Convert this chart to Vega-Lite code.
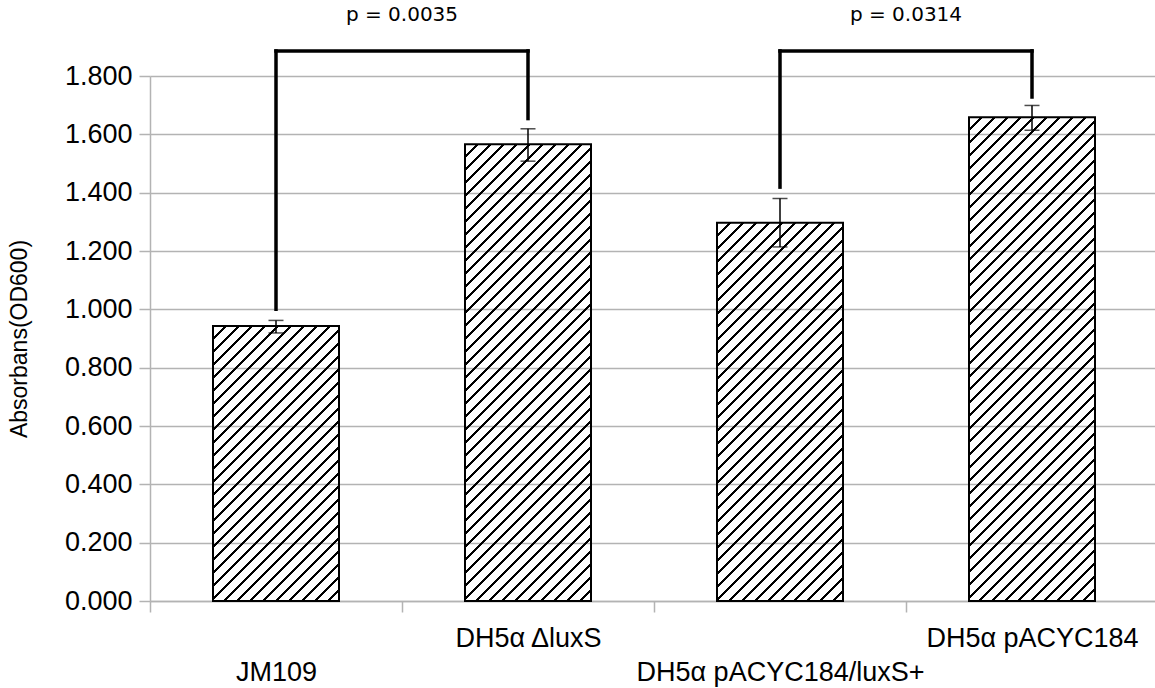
{
"$schema": "https://vega.github.io/schema/vega-lite/v6.json",
"width": 1005,
"height": 525,
"autosize": {"type": "none"},
"padding": {"left": 150, "top": 76, "right": 0, "bottom": 87},
"background": "white",
"config": {"view": {"stroke": null}, "font": "Liberation Sans"},
"datasets": {
"bars": [
{"strain": "JM109", "od": 0.943, "lo": 0.919, "hi": 0.962},
{"strain": "DH5α ΔluxS", "od": 1.566, "lo": 1.508, "hi": 1.619},
{"strain": "DH5α pACYC184/luxS+", "od": 1.297, "lo": 1.214, "hi": 1.380},
{"strain": "DH5α pACYC184", "od": 1.659, "lo": 1.614, "hi": 1.699}
],
"legs": [
{"strain": "JM109", "bottom": 1.0, "top": 1.886},
{"strain": "DH5α ΔluxS", "bottom": 1.654, "top": 1.886},
{"strain": "DH5α pACYC184/luxS+", "bottom": 1.419, "top": 1.886},
{"strain": "DH5α pACYC184", "bottom": 1.728, "top": 1.886}
],
"spans": [
{"from": "JM109", "to": "DH5α ΔluxS", "level": 1.886, "p": "p =  0.0035", "ty": 1.988},
{"from": "DH5α pACYC184/luxS+", "to": "DH5α pACYC184", "level": 1.886, "p": "p = 0.0314", "ty": 1.988}
]
},
"layer": [
{
"data": {"name": "bars"},
"mark": {"type": "bar", "width": {"band": 0.5}, "stroke": "black", "strokeWidth": 2},
"encoding": {
"x": {"field": "strain", "type": "nominal", "sort": null,
"scale": {"domain": ["JM109", "DH5α ΔluxS", "DH5α pACYC184/luxS+", "DH5α pACYC184"], "range": [0, 1008], "paddingInner": 0, "paddingOuter": 0},
"axis": {"title": null, "labelAngle": 0, "labelFontSize": 27, "labelColor": "black", "labelPadding": 13, "labelLineHeight": 34, "labelLimit": 0, "labelOverlap": false, "labelBound": false, "labelBaseline": "top",
"labelExpr": "datum.label == 'JM109' || datum.label == 'DH5α pACYC184/luxS+' ? ['', datum.label] : datum.label",
"tickBand": "extent", "tickSize": 11, "tickColor": "#b3b3b3", "tickWidth": 1.5, "domainColor": "#b3b3b3", "domainWidth": 1.5, "grid": false}},
"y": {"field": "od", "type": "quantitative", "scale": {"domain": [0, 1.8], "nice": false},
"axis": {"values": [0, 0.2, 0.4, 0.6, 0.8, 1.0, 1.2, 1.4, 1.6, 1.8], "format": ".3f", "title": "Absorbans(OD600)", "titleFontSize": 23, "titleFontWeight": "normal", "titleColor": "black", "titlePadding": 33,
"labelFontSize": 27, "labelColor": "black", "labelPadding": 7, "tickSize": 11, "tickColor": "#b3b3b3", "tickWidth": 1.5, "domainColor": "#b3b3b3", "domainWidth": 1.5, "gridColor": "#b3b3b3", "gridWidth": 1.5}},
"fill": {"condition": [
{"test": "datum.strain === 'JM109'", "value": {"gradient": "linear", "x1": 0, "y1": 0, "x2": 0.8945, "y2": 1.9528, "stops": [
{"offset":0.0175,"color":"#0000"},{"offset":0.0175,"color":"#000"},{"offset":0.0225,"color":"#000"},{"offset":0.0225,"color":"#0000"},
{"offset":0.0375,"color":"#0000"},{"offset":0.0375,"color":"#000"},{"offset":0.0425,"color":"#000"},{"offset":0.0425,"color":"#0000"},
{"offset":0.0575,"color":"#0000"},{"offset":0.0575,"color":"#000"},{"offset":0.0625,"color":"#000"},{"offset":0.0625,"color":"#0000"},
{"offset":0.0775,"color":"#0000"},{"offset":0.0775,"color":"#000"},{"offset":0.0825,"color":"#000"},{"offset":0.0825,"color":"#0000"},
{"offset":0.0975,"color":"#0000"},{"offset":0.0975,"color":"#000"},{"offset":0.1025,"color":"#000"},{"offset":0.1025,"color":"#0000"},
{"offset":0.1175,"color":"#0000"},{"offset":0.1175,"color":"#000"},{"offset":0.1225,"color":"#000"},{"offset":0.1225,"color":"#0000"},
{"offset":0.1375,"color":"#0000"},{"offset":0.1375,"color":"#000"},{"offset":0.1425,"color":"#000"},{"offset":0.1425,"color":"#0000"},
{"offset":0.1575,"color":"#0000"},{"offset":0.1575,"color":"#000"},{"offset":0.1625,"color":"#000"},{"offset":0.1625,"color":"#0000"},
{"offset":0.1775,"color":"#0000"},{"offset":0.1775,"color":"#000"},{"offset":0.1825,"color":"#000"},{"offset":0.1825,"color":"#0000"},
{"offset":0.1975,"color":"#0000"},{"offset":0.1975,"color":"#000"},{"offset":0.2025,"color":"#000"},{"offset":0.2025,"color":"#0000"},
{"offset":0.2175,"color":"#0000"},{"offset":0.2175,"color":"#000"},{"offset":0.2225,"color":"#000"},{"offset":0.2225,"color":"#0000"},
{"offset":0.2375,"color":"#0000"},{"offset":0.2375,"color":"#000"},{"offset":0.2425,"color":"#000"},{"offset":0.2425,"color":"#0000"},
{"offset":0.2575,"color":"#0000"},{"offset":0.2575,"color":"#000"},{"offset":0.2625,"color":"#000"},{"offset":0.2625,"color":"#0000"},
{"offset":0.2775,"color":"#0000"},{"offset":0.2775,"color":"#000"},{"offset":0.2825,"color":"#000"},{"offset":0.2825,"color":"#0000"},
{"offset":0.2975,"color":"#0000"},{"offset":0.2975,"color":"#000"},{"offset":0.3025,"color":"#000"},{"offset":0.3025,"color":"#0000"},
{"offset":0.3175,"color":"#0000"},{"offset":0.3175,"color":"#000"},{"offset":0.3225,"color":"#000"},{"offset":0.3225,"color":"#0000"},
{"offset":0.3375,"color":"#0000"},{"offset":0.3375,"color":"#000"},{"offset":0.3425,"color":"#000"},{"offset":0.3425,"color":"#0000"},
{"offset":0.3575,"color":"#0000"},{"offset":0.3575,"color":"#000"},{"offset":0.3625,"color":"#000"},{"offset":0.3625,"color":"#0000"},
{"offset":0.3775,"color":"#0000"},{"offset":0.3775,"color":"#000"},{"offset":0.3825,"color":"#000"},{"offset":0.3825,"color":"#0000"},
{"offset":0.3975,"color":"#0000"},{"offset":0.3975,"color":"#000"},{"offset":0.4025,"color":"#000"},{"offset":0.4025,"color":"#0000"},
{"offset":0.4175,"color":"#0000"},{"offset":0.4175,"color":"#000"},{"offset":0.4225,"color":"#000"},{"offset":0.4225,"color":"#0000"},
{"offset":0.4375,"color":"#0000"},{"offset":0.4375,"color":"#000"},{"offset":0.4425,"color":"#000"},{"offset":0.4425,"color":"#0000"},
{"offset":0.4575,"color":"#0000"},{"offset":0.4575,"color":"#000"},{"offset":0.4625,"color":"#000"},{"offset":0.4625,"color":"#0000"},
{"offset":0.4775,"color":"#0000"},{"offset":0.4775,"color":"#000"},{"offset":0.4825,"color":"#000"},{"offset":0.4825,"color":"#0000"},
{"offset":0.4975,"color":"#0000"},{"offset":0.4975,"color":"#000"},{"offset":0.5025,"color":"#000"},{"offset":0.5025,"color":"#0000"},
{"offset":0.5175,"color":"#0000"},{"offset":0.5175,"color":"#000"},{"offset":0.5225,"color":"#000"},{"offset":0.5225,"color":"#0000"},
{"offset":0.5375,"color":"#0000"},{"offset":0.5375,"color":"#000"},{"offset":0.5425,"color":"#000"},{"offset":0.5425,"color":"#0000"},
{"offset":0.5575,"color":"#0000"},{"offset":0.5575,"color":"#000"},{"offset":0.5625,"color":"#000"},{"offset":0.5625,"color":"#0000"},
{"offset":0.5775,"color":"#0000"},{"offset":0.5775,"color":"#000"},{"offset":0.5825,"color":"#000"},{"offset":0.5825,"color":"#0000"},
{"offset":0.5975,"color":"#0000"},{"offset":0.5975,"color":"#000"},{"offset":0.6025,"color":"#000"},{"offset":0.6025,"color":"#0000"}
]}},
{"test": "datum.strain === 'DH5α ΔluxS'", "value": {"gradient": "linear", "x1": 0, "y1": 0, "x2": 0.3647, "y2": 1.3222, "stops": [
{"offset":0.0175,"color":"#0000"},{"offset":0.0175,"color":"#000"},{"offset":0.0225,"color":"#000"},{"offset":0.0225,"color":"#0000"},
{"offset":0.0375,"color":"#0000"},{"offset":0.0375,"color":"#000"},{"offset":0.0425,"color":"#000"},{"offset":0.0425,"color":"#0000"},
{"offset":0.0575,"color":"#0000"},{"offset":0.0575,"color":"#000"},{"offset":0.0625,"color":"#000"},{"offset":0.0625,"color":"#0000"},
{"offset":0.0775,"color":"#0000"},{"offset":0.0775,"color":"#000"},{"offset":0.0825,"color":"#000"},{"offset":0.0825,"color":"#0000"},
{"offset":0.0975,"color":"#0000"},{"offset":0.0975,"color":"#000"},{"offset":0.1025,"color":"#000"},{"offset":0.1025,"color":"#0000"},
{"offset":0.1175,"color":"#0000"},{"offset":0.1175,"color":"#000"},{"offset":0.1225,"color":"#000"},{"offset":0.1225,"color":"#0000"},
{"offset":0.1375,"color":"#0000"},{"offset":0.1375,"color":"#000"},{"offset":0.1425,"color":"#000"},{"offset":0.1425,"color":"#0000"},
{"offset":0.1575,"color":"#0000"},{"offset":0.1575,"color":"#000"},{"offset":0.1625,"color":"#000"},{"offset":0.1625,"color":"#0000"},
{"offset":0.1775,"color":"#0000"},{"offset":0.1775,"color":"#000"},{"offset":0.1825,"color":"#000"},{"offset":0.1825,"color":"#0000"},
{"offset":0.1975,"color":"#0000"},{"offset":0.1975,"color":"#000"},{"offset":0.2025,"color":"#000"},{"offset":0.2025,"color":"#0000"},
{"offset":0.2175,"color":"#0000"},{"offset":0.2175,"color":"#000"},{"offset":0.2225,"color":"#000"},{"offset":0.2225,"color":"#0000"},
{"offset":0.2375,"color":"#0000"},{"offset":0.2375,"color":"#000"},{"offset":0.2425,"color":"#000"},{"offset":0.2425,"color":"#0000"},
{"offset":0.2575,"color":"#0000"},{"offset":0.2575,"color":"#000"},{"offset":0.2625,"color":"#000"},{"offset":0.2625,"color":"#0000"},
{"offset":0.2775,"color":"#0000"},{"offset":0.2775,"color":"#000"},{"offset":0.2825,"color":"#000"},{"offset":0.2825,"color":"#0000"},
{"offset":0.2975,"color":"#0000"},{"offset":0.2975,"color":"#000"},{"offset":0.3025,"color":"#000"},{"offset":0.3025,"color":"#0000"},
{"offset":0.3175,"color":"#0000"},{"offset":0.3175,"color":"#000"},{"offset":0.3225,"color":"#000"},{"offset":0.3225,"color":"#0000"},
{"offset":0.3375,"color":"#0000"},{"offset":0.3375,"color":"#000"},{"offset":0.3425,"color":"#000"},{"offset":0.3425,"color":"#0000"},
{"offset":0.3575,"color":"#0000"},{"offset":0.3575,"color":"#000"},{"offset":0.3625,"color":"#000"},{"offset":0.3625,"color":"#0000"},
{"offset":0.3775,"color":"#0000"},{"offset":0.3775,"color":"#000"},{"offset":0.3825,"color":"#000"},{"offset":0.3825,"color":"#0000"},
{"offset":0.3975,"color":"#0000"},{"offset":0.3975,"color":"#000"},{"offset":0.4025,"color":"#000"},{"offset":0.4025,"color":"#0000"},
{"offset":0.4175,"color":"#0000"},{"offset":0.4175,"color":"#000"},{"offset":0.4225,"color":"#000"},{"offset":0.4225,"color":"#0000"},
{"offset":0.4375,"color":"#0000"},{"offset":0.4375,"color":"#000"},{"offset":0.4425,"color":"#000"},{"offset":0.4425,"color":"#0000"},
{"offset":0.4575,"color":"#0000"},{"offset":0.4575,"color":"#000"},{"offset":0.4625,"color":"#000"},{"offset":0.4625,"color":"#0000"},
{"offset":0.4775,"color":"#0000"},{"offset":0.4775,"color":"#000"},{"offset":0.4825,"color":"#000"},{"offset":0.4825,"color":"#0000"},
{"offset":0.4975,"color":"#0000"},{"offset":0.4975,"color":"#000"},{"offset":0.5025,"color":"#000"},{"offset":0.5025,"color":"#0000"},
{"offset":0.5175,"color":"#0000"},{"offset":0.5175,"color":"#000"},{"offset":0.5225,"color":"#000"},{"offset":0.5225,"color":"#0000"},
{"offset":0.5375,"color":"#0000"},{"offset":0.5375,"color":"#000"},{"offset":0.5425,"color":"#000"},{"offset":0.5425,"color":"#0000"},
{"offset":0.5575,"color":"#0000"},{"offset":0.5575,"color":"#000"},{"offset":0.5625,"color":"#000"},{"offset":0.5625,"color":"#0000"},
{"offset":0.5775,"color":"#0000"},{"offset":0.5775,"color":"#000"},{"offset":0.5825,"color":"#000"},{"offset":0.5825,"color":"#0000"},
{"offset":0.5975,"color":"#0000"},{"offset":0.5975,"color":"#000"},{"offset":0.6025,"color":"#000"},{"offset":0.6025,"color":"#0000"},
{"offset":0.6175,"color":"#0000"},{"offset":0.6175,"color":"#000"},{"offset":0.6225,"color":"#000"},{"offset":0.6225,"color":"#0000"},
{"offset":0.6375,"color":"#0000"},{"offset":0.6375,"color":"#000"},{"offset":0.6425,"color":"#000"},{"offset":0.6425,"color":"#0000"},
{"offset":0.6575,"color":"#0000"},{"offset":0.6575,"color":"#000"},{"offset":0.6625,"color":"#000"},{"offset":0.6625,"color":"#0000"},
{"offset":0.6775,"color":"#0000"},{"offset":0.6775,"color":"#000"},{"offset":0.6825,"color":"#000"},{"offset":0.6825,"color":"#0000"},
{"offset":0.6975,"color":"#0000"},{"offset":0.6975,"color":"#000"},{"offset":0.7025,"color":"#000"},{"offset":0.7025,"color":"#0000"},
{"offset":0.7175,"color":"#0000"},{"offset":0.7175,"color":"#000"},{"offset":0.7225,"color":"#000"},{"offset":0.7225,"color":"#0000"},
{"offset":0.7375,"color":"#0000"},{"offset":0.7375,"color":"#000"},{"offset":0.7425,"color":"#000"},{"offset":0.7425,"color":"#0000"},
{"offset":0.7575,"color":"#0000"},{"offset":0.7575,"color":"#000"},{"offset":0.7625,"color":"#000"},{"offset":0.7625,"color":"#0000"},
{"offset":0.7775,"color":"#0000"},{"offset":0.7775,"color":"#000"},{"offset":0.7825,"color":"#000"},{"offset":0.7825,"color":"#0000"},
{"offset":0.7975,"color":"#0000"},{"offset":0.7975,"color":"#000"},{"offset":0.8025,"color":"#000"},{"offset":0.8025,"color":"#0000"},
{"offset":0.8175,"color":"#0000"},{"offset":0.8175,"color":"#000"},{"offset":0.8225,"color":"#000"},{"offset":0.8225,"color":"#0000"},
{"offset":0.8375,"color":"#0000"},{"offset":0.8375,"color":"#000"},{"offset":0.8425,"color":"#000"},{"offset":0.8425,"color":"#0000"},
{"offset":0.8575,"color":"#0000"},{"offset":0.8575,"color":"#000"},{"offset":0.8625,"color":"#000"},{"offset":0.8625,"color":"#0000"},
{"offset":0.8775,"color":"#0000"},{"offset":0.8775,"color":"#000"},{"offset":0.8825,"color":"#000"},{"offset":0.8825,"color":"#0000"}
]}},
{"test": "datum.strain === 'DH5α pACYC184/luxS+'", "value": {"gradient": "linear", "x1": 0, "y1": 0, "x2": 0.5151, "y2": 1.5466, "stops": [
{"offset":0.0175,"color":"#0000"},{"offset":0.0175,"color":"#000"},{"offset":0.0225,"color":"#000"},{"offset":0.0225,"color":"#0000"},
{"offset":0.0375,"color":"#0000"},{"offset":0.0375,"color":"#000"},{"offset":0.0425,"color":"#000"},{"offset":0.0425,"color":"#0000"},
{"offset":0.0575,"color":"#0000"},{"offset":0.0575,"color":"#000"},{"offset":0.0625,"color":"#000"},{"offset":0.0625,"color":"#0000"},
{"offset":0.0775,"color":"#0000"},{"offset":0.0775,"color":"#000"},{"offset":0.0825,"color":"#000"},{"offset":0.0825,"color":"#0000"},
{"offset":0.0975,"color":"#0000"},{"offset":0.0975,"color":"#000"},{"offset":0.1025,"color":"#000"},{"offset":0.1025,"color":"#0000"},
{"offset":0.1175,"color":"#0000"},{"offset":0.1175,"color":"#000"},{"offset":0.1225,"color":"#000"},{"offset":0.1225,"color":"#0000"},
{"offset":0.1375,"color":"#0000"},{"offset":0.1375,"color":"#000"},{"offset":0.1425,"color":"#000"},{"offset":0.1425,"color":"#0000"},
{"offset":0.1575,"color":"#0000"},{"offset":0.1575,"color":"#000"},{"offset":0.1625,"color":"#000"},{"offset":0.1625,"color":"#0000"},
{"offset":0.1775,"color":"#0000"},{"offset":0.1775,"color":"#000"},{"offset":0.1825,"color":"#000"},{"offset":0.1825,"color":"#0000"},
{"offset":0.1975,"color":"#0000"},{"offset":0.1975,"color":"#000"},{"offset":0.2025,"color":"#000"},{"offset":0.2025,"color":"#0000"},
{"offset":0.2175,"color":"#0000"},{"offset":0.2175,"color":"#000"},{"offset":0.2225,"color":"#000"},{"offset":0.2225,"color":"#0000"},
{"offset":0.2375,"color":"#0000"},{"offset":0.2375,"color":"#000"},{"offset":0.2425,"color":"#000"},{"offset":0.2425,"color":"#0000"},
{"offset":0.2575,"color":"#0000"},{"offset":0.2575,"color":"#000"},{"offset":0.2625,"color":"#000"},{"offset":0.2625,"color":"#0000"},
{"offset":0.2775,"color":"#0000"},{"offset":0.2775,"color":"#000"},{"offset":0.2825,"color":"#000"},{"offset":0.2825,"color":"#0000"},
{"offset":0.2975,"color":"#0000"},{"offset":0.2975,"color":"#000"},{"offset":0.3025,"color":"#000"},{"offset":0.3025,"color":"#0000"},
{"offset":0.3175,"color":"#0000"},{"offset":0.3175,"color":"#000"},{"offset":0.3225,"color":"#000"},{"offset":0.3225,"color":"#0000"},
{"offset":0.3375,"color":"#0000"},{"offset":0.3375,"color":"#000"},{"offset":0.3425,"color":"#000"},{"offset":0.3425,"color":"#0000"},
{"offset":0.3575,"color":"#0000"},{"offset":0.3575,"color":"#000"},{"offset":0.3625,"color":"#000"},{"offset":0.3625,"color":"#0000"},
{"offset":0.3775,"color":"#0000"},{"offset":0.3775,"color":"#000"},{"offset":0.3825,"color":"#000"},{"offset":0.3825,"color":"#0000"},
{"offset":0.3975,"color":"#0000"},{"offset":0.3975,"color":"#000"},{"offset":0.4025,"color":"#000"},{"offset":0.4025,"color":"#0000"},
{"offset":0.4175,"color":"#0000"},{"offset":0.4175,"color":"#000"},{"offset":0.4225,"color":"#000"},{"offset":0.4225,"color":"#0000"},
{"offset":0.4375,"color":"#0000"},{"offset":0.4375,"color":"#000"},{"offset":0.4425,"color":"#000"},{"offset":0.4425,"color":"#0000"},
{"offset":0.4575,"color":"#0000"},{"offset":0.4575,"color":"#000"},{"offset":0.4625,"color":"#000"},{"offset":0.4625,"color":"#0000"},
{"offset":0.4775,"color":"#0000"},{"offset":0.4775,"color":"#000"},{"offset":0.4825,"color":"#000"},{"offset":0.4825,"color":"#0000"},
{"offset":0.4975,"color":"#0000"},{"offset":0.4975,"color":"#000"},{"offset":0.5025,"color":"#000"},{"offset":0.5025,"color":"#0000"},
{"offset":0.5175,"color":"#0000"},{"offset":0.5175,"color":"#000"},{"offset":0.5225,"color":"#000"},{"offset":0.5225,"color":"#0000"},
{"offset":0.5375,"color":"#0000"},{"offset":0.5375,"color":"#000"},{"offset":0.5425,"color":"#000"},{"offset":0.5425,"color":"#0000"},
{"offset":0.5575,"color":"#0000"},{"offset":0.5575,"color":"#000"},{"offset":0.5625,"color":"#000"},{"offset":0.5625,"color":"#0000"},
{"offset":0.5775,"color":"#0000"},{"offset":0.5775,"color":"#000"},{"offset":0.5825,"color":"#000"},{"offset":0.5825,"color":"#0000"},
{"offset":0.5975,"color":"#0000"},{"offset":0.5975,"color":"#000"},{"offset":0.6025,"color":"#000"},{"offset":0.6025,"color":"#0000"},
{"offset":0.6175,"color":"#0000"},{"offset":0.6175,"color":"#000"},{"offset":0.6225,"color":"#000"},{"offset":0.6225,"color":"#0000"},
{"offset":0.6375,"color":"#0000"},{"offset":0.6375,"color":"#000"},{"offset":0.6425,"color":"#000"},{"offset":0.6425,"color":"#0000"},
{"offset":0.6575,"color":"#0000"},{"offset":0.6575,"color":"#000"},{"offset":0.6625,"color":"#000"},{"offset":0.6625,"color":"#0000"},
{"offset":0.6775,"color":"#0000"},{"offset":0.6775,"color":"#000"},{"offset":0.6825,"color":"#000"},{"offset":0.6825,"color":"#0000"},
{"offset":0.6975,"color":"#0000"},{"offset":0.6975,"color":"#000"},{"offset":0.7025,"color":"#000"},{"offset":0.7025,"color":"#0000"},
{"offset":0.7175,"color":"#0000"},{"offset":0.7175,"color":"#000"},{"offset":0.7225,"color":"#000"},{"offset":0.7225,"color":"#0000"},
{"offset":0.7375,"color":"#0000"},{"offset":0.7375,"color":"#000"},{"offset":0.7425,"color":"#000"},{"offset":0.7425,"color":"#0000"},
{"offset":0.7575,"color":"#0000"},{"offset":0.7575,"color":"#000"},{"offset":0.7625,"color":"#000"},{"offset":0.7625,"color":"#0000"}
]}}
],
"value": {"gradient": "linear", "x1": 0, "y1": 0, "x2": 0.3276, "y2": 1.2580, "stops": [
{"offset":0.0175,"color":"#0000"},{"offset":0.0175,"color":"#000"},{"offset":0.0225,"color":"#000"},{"offset":0.0225,"color":"#0000"},
{"offset":0.0375,"color":"#0000"},{"offset":0.0375,"color":"#000"},{"offset":0.0425,"color":"#000"},{"offset":0.0425,"color":"#0000"},
{"offset":0.0575,"color":"#0000"},{"offset":0.0575,"color":"#000"},{"offset":0.0625,"color":"#000"},{"offset":0.0625,"color":"#0000"},
{"offset":0.0775,"color":"#0000"},{"offset":0.0775,"color":"#000"},{"offset":0.0825,"color":"#000"},{"offset":0.0825,"color":"#0000"},
{"offset":0.0975,"color":"#0000"},{"offset":0.0975,"color":"#000"},{"offset":0.1025,"color":"#000"},{"offset":0.1025,"color":"#0000"},
{"offset":0.1175,"color":"#0000"},{"offset":0.1175,"color":"#000"},{"offset":0.1225,"color":"#000"},{"offset":0.1225,"color":"#0000"},
{"offset":0.1375,"color":"#0000"},{"offset":0.1375,"color":"#000"},{"offset":0.1425,"color":"#000"},{"offset":0.1425,"color":"#0000"},
{"offset":0.1575,"color":"#0000"},{"offset":0.1575,"color":"#000"},{"offset":0.1625,"color":"#000"},{"offset":0.1625,"color":"#0000"},
{"offset":0.1775,"color":"#0000"},{"offset":0.1775,"color":"#000"},{"offset":0.1825,"color":"#000"},{"offset":0.1825,"color":"#0000"},
{"offset":0.1975,"color":"#0000"},{"offset":0.1975,"color":"#000"},{"offset":0.2025,"color":"#000"},{"offset":0.2025,"color":"#0000"},
{"offset":0.2175,"color":"#0000"},{"offset":0.2175,"color":"#000"},{"offset":0.2225,"color":"#000"},{"offset":0.2225,"color":"#0000"},
{"offset":0.2375,"color":"#0000"},{"offset":0.2375,"color":"#000"},{"offset":0.2425,"color":"#000"},{"offset":0.2425,"color":"#0000"},
{"offset":0.2575,"color":"#0000"},{"offset":0.2575,"color":"#000"},{"offset":0.2625,"color":"#000"},{"offset":0.2625,"color":"#0000"},
{"offset":0.2775,"color":"#0000"},{"offset":0.2775,"color":"#000"},{"offset":0.2825,"color":"#000"},{"offset":0.2825,"color":"#0000"},
{"offset":0.2975,"color":"#0000"},{"offset":0.2975,"color":"#000"},{"offset":0.3025,"color":"#000"},{"offset":0.3025,"color":"#0000"},
{"offset":0.3175,"color":"#0000"},{"offset":0.3175,"color":"#000"},{"offset":0.3225,"color":"#000"},{"offset":0.3225,"color":"#0000"},
{"offset":0.3375,"color":"#0000"},{"offset":0.3375,"color":"#000"},{"offset":0.3425,"color":"#000"},{"offset":0.3425,"color":"#0000"},
{"offset":0.3575,"color":"#0000"},{"offset":0.3575,"color":"#000"},{"offset":0.3625,"color":"#000"},{"offset":0.3625,"color":"#0000"},
{"offset":0.3775,"color":"#0000"},{"offset":0.3775,"color":"#000"},{"offset":0.3825,"color":"#000"},{"offset":0.3825,"color":"#0000"},
{"offset":0.3975,"color":"#0000"},{"offset":0.3975,"color":"#000"},{"offset":0.4025,"color":"#000"},{"offset":0.4025,"color":"#0000"},
{"offset":0.4175,"color":"#0000"},{"offset":0.4175,"color":"#000"},{"offset":0.4225,"color":"#000"},{"offset":0.4225,"color":"#0000"},
{"offset":0.4375,"color":"#0000"},{"offset":0.4375,"color":"#000"},{"offset":0.4425,"color":"#000"},{"offset":0.4425,"color":"#0000"},
{"offset":0.4575,"color":"#0000"},{"offset":0.4575,"color":"#000"},{"offset":0.4625,"color":"#000"},{"offset":0.4625,"color":"#0000"},
{"offset":0.4775,"color":"#0000"},{"offset":0.4775,"color":"#000"},{"offset":0.4825,"color":"#000"},{"offset":0.4825,"color":"#0000"},
{"offset":0.4975,"color":"#0000"},{"offset":0.4975,"color":"#000"},{"offset":0.5025,"color":"#000"},{"offset":0.5025,"color":"#0000"},
{"offset":0.5175,"color":"#0000"},{"offset":0.5175,"color":"#000"},{"offset":0.5225,"color":"#000"},{"offset":0.5225,"color":"#0000"},
{"offset":0.5375,"color":"#0000"},{"offset":0.5375,"color":"#000"},{"offset":0.5425,"color":"#000"},{"offset":0.5425,"color":"#0000"},
{"offset":0.5575,"color":"#0000"},{"offset":0.5575,"color":"#000"},{"offset":0.5625,"color":"#000"},{"offset":0.5625,"color":"#0000"},
{"offset":0.5775,"color":"#0000"},{"offset":0.5775,"color":"#000"},{"offset":0.5825,"color":"#000"},{"offset":0.5825,"color":"#0000"},
{"offset":0.5975,"color":"#0000"},{"offset":0.5975,"color":"#000"},{"offset":0.6025,"color":"#000"},{"offset":0.6025,"color":"#0000"},
{"offset":0.6175,"color":"#0000"},{"offset":0.6175,"color":"#000"},{"offset":0.6225,"color":"#000"},{"offset":0.6225,"color":"#0000"},
{"offset":0.6375,"color":"#0000"},{"offset":0.6375,"color":"#000"},{"offset":0.6425,"color":"#000"},{"offset":0.6425,"color":"#0000"},
{"offset":0.6575,"color":"#0000"},{"offset":0.6575,"color":"#000"},{"offset":0.6625,"color":"#000"},{"offset":0.6625,"color":"#0000"},
{"offset":0.6775,"color":"#0000"},{"offset":0.6775,"color":"#000"},{"offset":0.6825,"color":"#000"},{"offset":0.6825,"color":"#0000"},
{"offset":0.6975,"color":"#0000"},{"offset":0.6975,"color":"#000"},{"offset":0.7025,"color":"#000"},{"offset":0.7025,"color":"#0000"},
{"offset":0.7175,"color":"#0000"},{"offset":0.7175,"color":"#000"},{"offset":0.7225,"color":"#000"},{"offset":0.7225,"color":"#0000"},
{"offset":0.7375,"color":"#0000"},{"offset":0.7375,"color":"#000"},{"offset":0.7425,"color":"#000"},{"offset":0.7425,"color":"#0000"},
{"offset":0.7575,"color":"#0000"},{"offset":0.7575,"color":"#000"},{"offset":0.7625,"color":"#000"},{"offset":0.7625,"color":"#0000"},
{"offset":0.7775,"color":"#0000"},{"offset":0.7775,"color":"#000"},{"offset":0.7825,"color":"#000"},{"offset":0.7825,"color":"#0000"},
{"offset":0.7975,"color":"#0000"},{"offset":0.7975,"color":"#000"},{"offset":0.8025,"color":"#000"},{"offset":0.8025,"color":"#0000"},
{"offset":0.8175,"color":"#0000"},{"offset":0.8175,"color":"#000"},{"offset":0.8225,"color":"#000"},{"offset":0.8225,"color":"#0000"},
{"offset":0.8375,"color":"#0000"},{"offset":0.8375,"color":"#000"},{"offset":0.8425,"color":"#000"},{"offset":0.8425,"color":"#0000"},
{"offset":0.8575,"color":"#0000"},{"offset":0.8575,"color":"#000"},{"offset":0.8625,"color":"#000"},{"offset":0.8625,"color":"#0000"},
{"offset":0.8775,"color":"#0000"},{"offset":0.8775,"color":"#000"},{"offset":0.8825,"color":"#000"},{"offset":0.8825,"color":"#0000"},
{"offset":0.8975,"color":"#0000"},{"offset":0.8975,"color":"#000"},{"offset":0.9025,"color":"#000"},{"offset":0.9025,"color":"#0000"},
{"offset":0.9175,"color":"#0000"},{"offset":0.9175,"color":"#000"},{"offset":0.9225,"color":"#000"},{"offset":0.9225,"color":"#0000"}
]}}
}
},
{
"data": {"name": "bars"},
"mark": {"type": "rule", "color": "black", "strokeWidth": 1.5},
"encoding": {
"x": {"field": "strain", "type": "nominal", "sort": null},
"y": {"field": "lo", "type": "quantitative"},
"y2": {"field": "hi"}
}
},
{
"data": {"name": "bars"},
"mark": {"type": "tick", "color": "black", "size": 15, "thickness": 1.5},
"encoding": {
"x": {"field": "strain", "type": "nominal", "sort": null},
"y": {"field": "lo", "type": "quantitative"}
}
},
{
"data": {"name": "bars"},
"mark": {"type": "tick", "color": "black", "size": 15, "thickness": 1.5},
"encoding": {
"x": {"field": "strain", "type": "nominal", "sort": null},
"y": {"field": "hi", "type": "quantitative"}
}
},
{
"data": {"name": "legs"},
"mark": {"type": "rule", "color": "black", "strokeWidth": 3.5, "strokeCap": "square"},
"encoding": {
"x": {"field": "strain", "type": "nominal", "sort": null},
"y": {"field": "bottom", "type": "quantitative"},
"y2": {"field": "top"}
}
},
{
"data": {"name": "spans"},
"mark": {"type": "rule", "color": "black", "strokeWidth": 3.5, "strokeCap": "square"},
"encoding": {
"x": {"field": "from", "type": "nominal", "sort": null},
"x2": {"field": "to"},
"y": {"field": "level", "type": "quantitative"}
}
},
{
"data": {"name": "spans"},
"mark": {"type": "text", "font": "DejaVu Sans", "fontSize": 20, "color": "black", "align": "center", "baseline": "alphabetic"},
"encoding": {
"x": {"field": "from", "type": "nominal", "sort": null, "bandPosition": 1},
"y": {"field": "ty", "type": "quantitative"},
"text": {"field": "p"}
}
}
]
}
